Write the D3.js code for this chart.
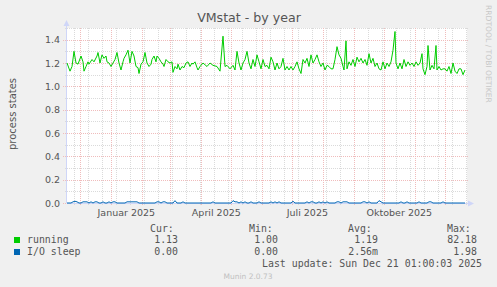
<!DOCTYPE html>
<html lang="de">
<head>
<meta charset="utf-8">
<title>VMstat - by year</title>
<script src="https://cdn.jsdelivr.net/npm/d3@7"></script>
<style>
  body { margin: 0; background: #f0f0f0; }
  text { font-family: "DejaVu Sans", sans-serif; }
  .mono { font-family: "DejaVu Sans Mono", monospace; }
</style>
</head>
<body>
<script>
// window is 400 days wide, one pixel per day
var startDate = Date.UTC(2024, 10, 17, 16);
var endDate = Date.UTC(2025, 11, 22, 16);
var DAY = 86400000;

// running: day offset from start, value
var runDays = [0,3,5,7,9,11,14,16,17,19,21,22,25,27,30,31,33,35,37,39,40,42,44,46,48,50,52,54,56,57,59,61,63,65,67,69,71,72,74,76,78,80,82,84,85,87,89,90,92,94,96,97,99,101,103,105,106,108,110,111,113,115,117,119,121,123,125,126,128,130,131,
  133,136,140,143,146,150,153,156,158,160,163,166,168,170,172,174,176,178,180,182,184,186,188,190,192,194,196,198,200,202,204,206,208,210,212,214,216,218,220,222,224,226,228,230,232,234,236,238,240,242,244,246,248,250,252,254,256,258,260,262,264,266,268,270,272,274,276,277,279,280,282,284,286,288,290,292,294,296,298,300,302,304,306,308,310,312,314,316,318,320,322,324,326,328,329,331,333,335,337,339,341,343,345,347,349,351,353,355,356,358,360,361,363,365,367,369,370,372,374,376,378,380,382,384,386,388,390,392,394,396,398];
var runValues = [1.20,1.13,1.17,1.30,1.20,1.19,1.26,1.21,1.13,1.17,1.21,1.19,1.23,1.21,1.26,1.29,1.20,1.27,1.24,1.26,1.21,1.20,1.17,1.20,1.23,1.29,1.20,1.14,1.21,1.24,1.27,1.31,1.20,1.30,1.26,1.17,1.16,1.11,1.19,1.21,1.29,1.20,1.17,1.19,1.23,1.26,1.21,1.26,1.24,1.21,1.19,1.17,1.23,1.21,1.20,1.21,1.12,1.17,1.15,1.19,1.14,1.17,1.16,1.20,1.21,1.17,1.20,1.19,1.21,1.16,1.14,
  1.17,1.20,1.17,1.20,1.18,1.17,1.13,1.43,1.17,1.18,1.15,1.18,1.14,1.30,1.20,1.14,1.20,1.23,1.30,1.20,1.15,1.23,1.17,1.27,1.21,1.15,1.23,1.17,1.18,1.15,1.25,1.21,1.14,1.20,1.15,1.17,1.24,1.14,1.17,1.14,1.17,1.14,1.17,1.21,1.15,1.11,1.23,1.20,1.24,1.17,1.27,1.20,1.23,1.27,1.21,1.17,1.20,1.14,1.18,1.17,1.15,1.15,1.23,1.34,1.27,1.24,1.17,1.14,1.39,1.15,1.21,1.18,1.23,1.17,1.25,1.21,1.24,1.20,1.23,1.18,1.28,1.20,1.24,1.17,1.20,1.15,1.14,1.21,1.15,1.20,1.17,1.21,1.31,1.47,1.20,1.15,1.20,1.15,1.23,1.17,1.21,1.18,1.20,1.17,1.21,1.18,1.20,1.28,1.15,1.10,1.17,1.35,1.14,1.18,1.15,1.35,1.14,1.17,1.14,1.15,1.15,1.13,1.17,1.11,1.20,1.13,1.11,1.15,1.15,1.10,1.14];

// I/O sleep: mostly zero, small blips on these days
var ioBlipDays = [6,8,10,16,18,20,24,28,30,36,42,46,48,60,62,64,66,68,70,90,92,96,98,108,116,146,166,168,170,174,178,184,192,204,208,212,226,240,244,246,252,256,260,270,272,276,278,280,296,298,302,312,314,334,340,352,362,364,376];
var ioBlipValues = [0.01,0.015,0.01,0.01,0.01,0.01,0.01,0.01,0.01,0.01,0.01,0.01,0.01,0.01,0.01,0.01,0.01,0.01,0.01,0.01,0.01,0.01,0.01,0.02,0.01,0.01,0.02,0.01,0.01,0.01,0.01,0.01,0.01,0.01,0.01,0.01,0.015,0.01,0.01,0.01,0.01,0.01,0.01,0.01,0.01,0.01,0.01,0.01,0.01,0.01,0.01,0.02,0.01,0.01,0.01,0.01,0.01,0.01,0.01];

var yTicks = [0.0, 0.2, 0.4, 0.6, 0.8, 1.0, 1.2, 1.4];
var yMinor = [0.1, 0.3, 0.5, 0.7, 0.9, 1.1, 1.3, 1.5];
var monthLabels = ["Januar 2025", "April 2025", "Juli 2025", "Oktober 2025"];
var labelDates = [Date.UTC(2025,0,16), Date.UTC(2025,3,16), Date.UTC(2025,6,16), Date.UTC(2025,9,16)];

var legendNames = ["running", "I/O sleep"];
var legendColors = ["#00cc00", "#0066b3"];
var legendCur = ["1.13", "0.00"];
var legendMin = ["1.00", "0.00"];
var legendAvg = ["1.19", "2.56m"];
var legendMax = ["82.18", "1.98"];

var W = 497, H = 287;
var svg = d3.select("body").append("svg")
    .attr("width", W).attr("height", H);

svg.append("rect").attr("width", W).attr("height", H).attr("fill", "#f0f0f0");

var x = d3.scaleUtc().domain([startDate, endDate]).range([67, 467]);
var y = d3.scaleLinear().domain([0, 1.5]).range([203, 28]);

svg.append("rect")
    .attr("x", 67).attr("y", 28).attr("width", 400).attr("height", 175)
    .attr("fill", "#ffffff");

// minor grid
var weeks = d3.utcMonday.range(new Date(Date.UTC(2024,10,25)), new Date(endDate), 2);
svg.append("g").selectAll("line")
    .data(weeks).enter().append("line")
    .attr("x1", d => Math.round(x(d)) + 0.5).attr("x2", d => Math.round(x(d)) + 0.5)
    .attr("y1", 28).attr("y2", 205)
    .attr("stroke", "#dadada").attr("stroke-dasharray", "1,1");

svg.append("g").selectAll("line")
    .data(yMinor).enter().append("line")
    .attr("x1", 65).attr("x2", 468)
    .attr("y1", d => Math.round(y(d)) + 0.5).attr("y2", d => Math.round(y(d)) + 0.5)
    .attr("stroke", "#dadada").attr("stroke-dasharray", "1,1");

// major grid
var months = d3.utcMonth.range(new Date(startDate), new Date(endDate));
svg.append("g").selectAll("line")
    .data(months).enter().append("line")
    .attr("x1", d => Math.round(x(d)) + 0.5).attr("x2", d => Math.round(x(d)) + 0.5)
    .attr("y1", 28).attr("y2", 206)
    .attr("stroke", "#f0bcbc").attr("stroke-dasharray", "1,1");

svg.append("g").selectAll("line")
    .data(yTicks).enter().append("line")
    .attr("x1", 63).attr("x2", 468)
    .attr("y1", d => Math.round(y(d)) + 0.5).attr("y2", d => Math.round(y(d)) + 0.5)
    .attr("stroke", "#f0bcbc").attr("stroke-dasharray", "1,1");

// tick labels
svg.append("g").selectAll("text")
    .data(yTicks).enter().append("text")
    .attr("x", 60).attr("y", d => y(d) + 3.5)
    .attr("text-anchor", "end")
    .attr("font-size", "9.5px").attr("fill", "#555")
    .text(d => d.toFixed(1));

svg.append("g").selectAll("text")
    .data(monthLabels).enter().append("text")
    .attr("x", (d, i) => x(labelDates[i])).attr("y", 216)
    .attr("text-anchor", "middle")
    .attr("font-size", "9.5px").attr("fill", "#555")
    .text(d => d);

// series
var runData = runDays.map((d, i) => ({ t: startDate + d * DAY, v: runValues[i] }));
var ioData = [];
for (var d = 0; d <= 398; d += 2) {
    var k = ioBlipDays.indexOf(d);
    ioData.push({ t: startDate + d * DAY, v: k >= 0 ? ioBlipValues[k] : 0 });
}

var line = d3.line().x(d => x(d.t)).y(d => y(d.v));

// axes
svg.append("line").attr("x1", 67).attr("x2", 468).attr("y1", 203.5).attr("y2", 203.5)
    .attr("stroke", "#cfd6f8");
svg.append("line").attr("x1", 66.5).attr("x2", 66.5).attr("y1", 203).attr("y2", 26)
    .attr("stroke", "#cfd6f8");
svg.append("path").attr("d", "M468,200.5L474,203.5L468,206.5Z").attr("fill", "#cfd6f8");
svg.append("path").attr("d", "M63.5,26L66.5,20L69.5,26Z").attr("fill", "#cfd6f8");

svg.append("path").datum(ioData)
    .attr("d", line).attr("fill", "none")
    .attr("stroke", "#0066b3").attr("stroke-width", 1);

svg.append("path").datum(runData)
    .attr("d", line).attr("fill", "none")
    .attr("stroke", "#00cc00").attr("stroke-width", 1);

// titles
svg.append("text").attr("x", 249).attr("y", 22)
    .attr("text-anchor", "middle").attr("font-size", "12.6px").attr("fill", "#555")
    .text("VMstat - by year");

svg.append("text")
    .attr("transform", "translate(16,114) rotate(-90)")
    .attr("text-anchor", "middle").attr("font-size", "10px").attr("fill", "#555")
    .text("process states");

svg.append("text")
    .attr("transform", "translate(486,5) rotate(90)")
    .attr("text-anchor", "start").attr("font-size", "7.6px").attr("fill", "#c8c8c8")
    .text("RRDTOOL / TOBI OETIKER");

// legend
var leg = svg.append("g").attr("class", "mono").attr("font-size", "9.9px").attr("fill", "#555");
var heads = [["Cur:", 150], ["Min:", 249], ["Avg:", 348], ["Max:", 447]];
heads.forEach(h => {
    leg.append("text").attr("class", "mono").attr("x", h[1]).attr("y", 232).text(h[0]);
});

legendNames.forEach((name, i) => {
    var yy = 243 + i * 12;
    svg.append("rect").attr("x", 14).attr("y", yy - 6).attr("width", 6).attr("height", 6)
        .attr("fill", legendColors[i]);
    leg.append("text").attr("class", "mono").attr("x", 27).attr("y", yy).text(name);
    [[legendCur, 178], [legendMin, 278], [legendAvg, 378], [legendMax, 477]].forEach(c => {
        leg.append("text").attr("class", "mono").attr("x", c[1]).attr("y", yy)
            .attr("text-anchor", "end").text(c[0][i]);
    });
});

leg.append("text").attr("class", "mono").attr("x", 482).attr("y", 267)
    .attr("text-anchor", "end").text("Last update: Sun Dec 21 01:00:03 2025");

svg.append("text").attr("x", 248).attr("y", 279)
    .attr("text-anchor", "middle").attr("font-size", "7.5px").attr("fill", "#c0c0c0")
    .text("Munin 2.0.73");
</script>
</body>
</html>
